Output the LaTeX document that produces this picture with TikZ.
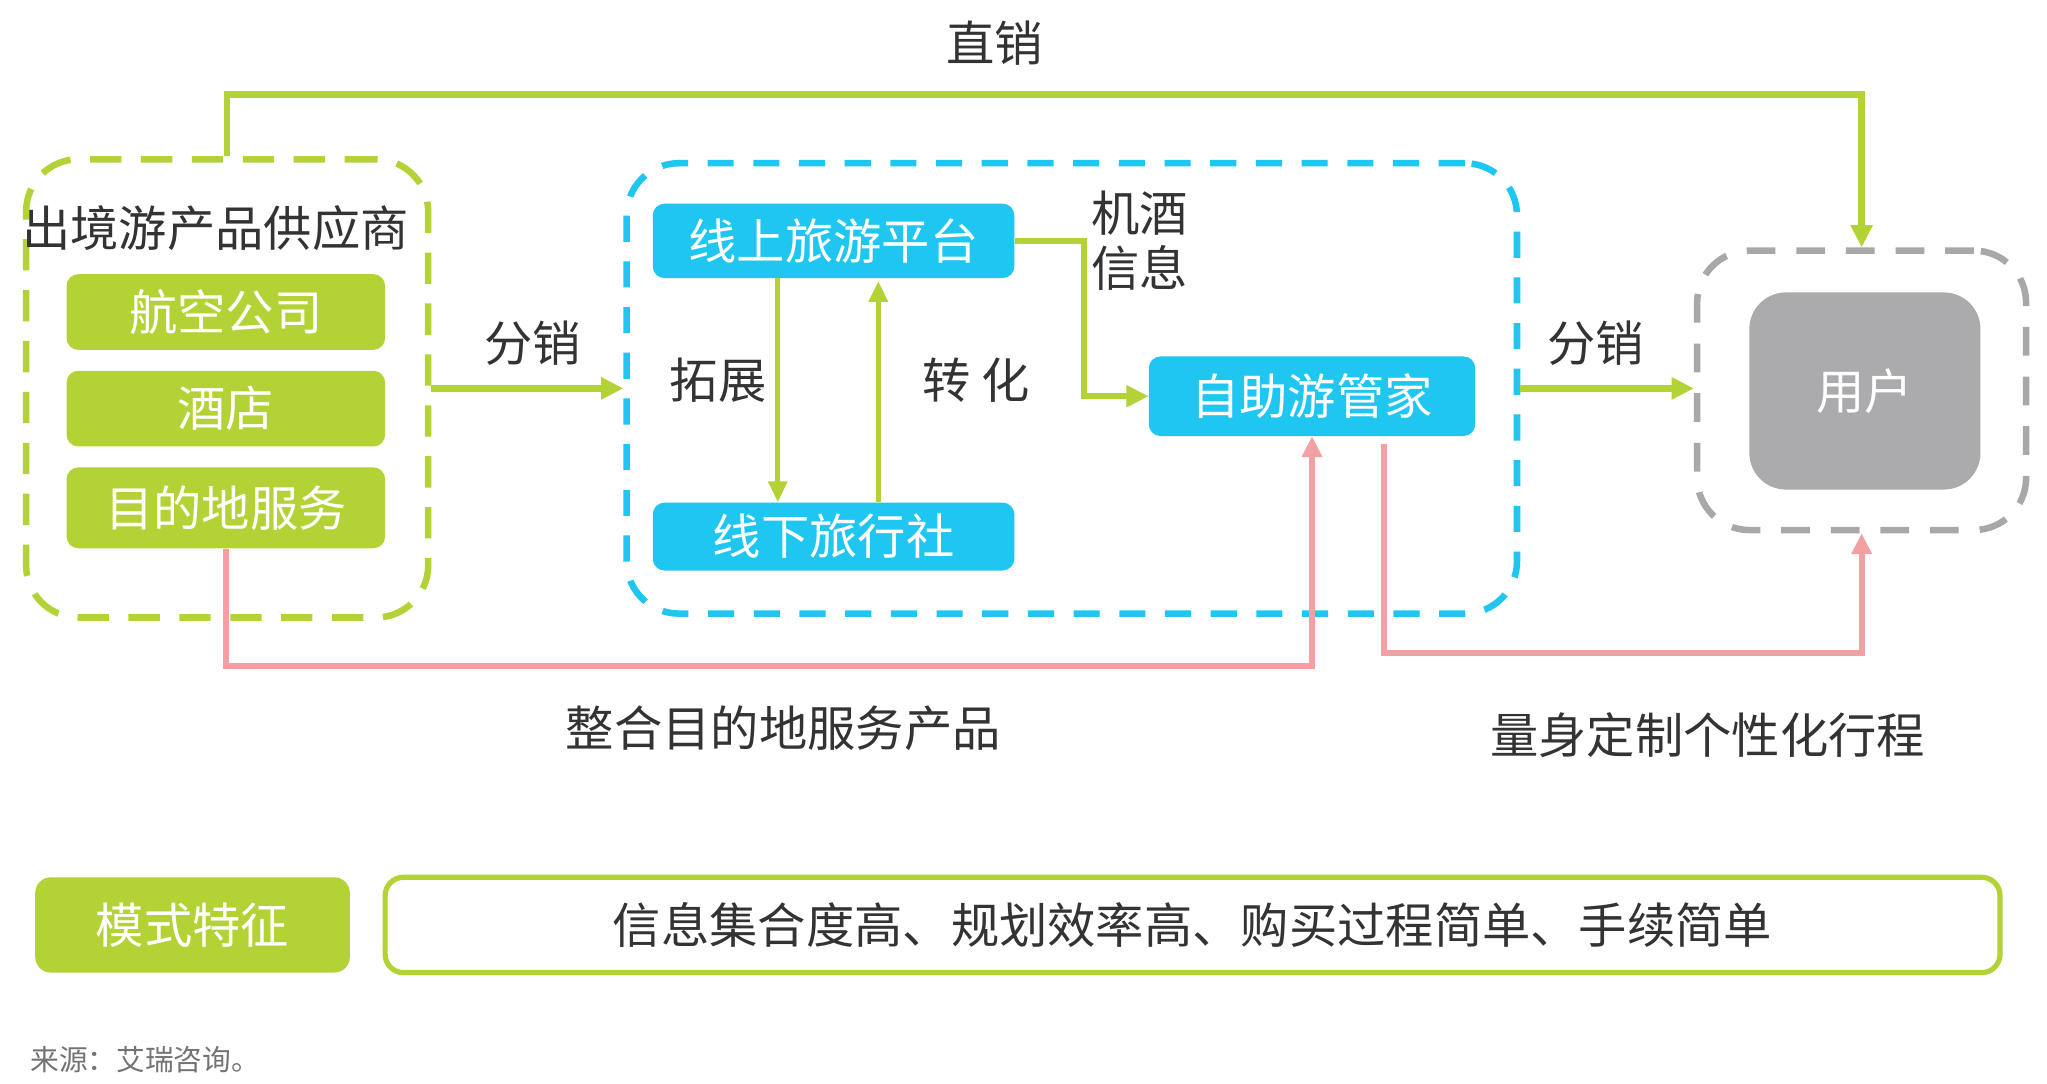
\documentclass[tikz,border=0pt]{standalone}
\usepackage{fontspec}
\setmainfont{Noto Sans CJK SC}
\usetikzlibrary{arrows.meta,calc}
\definecolor{lg}{HTML}{B3D236}
\definecolor{bl}{HTML}{1EC6F0}
\definecolor{pk}{HTML}{F2A0A3}
\definecolor{gy}{HTML}{ABABAE}
\definecolor{gyd}{HTML}{A8A8A8}
\definecolor{tx}{HTML}{333333}
\newcommand\fbig{\fontsize{37}{41}\selectfont}
\tikzset{
  txt/.style={font=\fbig, text=tx, inner sep=0pt},
  fillbox/.style={font=\fbig, text=white, inner sep=0pt, rounded corners=9pt},
  gbx/.style={fillbox, fill=lg, minimum width=244pt},
  bbx/.style={fillbox, fill=bl, minimum width=277pt},
  dbox/.style={line width=5pt, rounded corners=40pt, inner sep=0pt},
  garrow/.style={draw=lg, line width=5pt, -{Triangle[length=17pt,width=16pt]}},
  garrowthin/.style={draw=lg, line width=4pt, -{Triangle[length=16pt,width=14pt]}},
  parrow/.style={draw=pk, line width=4.5pt, -{Triangle[length=16pt,width=15pt]}},
}
\begin{document}
\begin{tikzpicture}[x=1pt,y=-1pt]
\useasboundingbox[fill=white] (0,0) rectangle (1568,830);

% left supplier group
\node[dbox, draw=lg, dash pattern=on 24pt off 15pt, minimum width=308pt, minimum height=351pt] (lbox) at (174,297.5) {};
\node[txt] (sup) at (165,175) {出境游产品供应商};
\node[gbx, minimum height=58pt] (air) at (173,239) {航空公司};
\node[gbx, minimum height=58pt] (hotel) at (173,313) {酒店};
\node[gbx, minimum height=62pt] (serv) at (173,389) {目的地服务};

% middle group
\node[dbox, draw=bl, dash pattern=on 20pt off 15pt, minimum width=682pt, minimum height=345pt] (bbox) at (821,297.5) {};
\node[bbx, minimum height=57pt] (on) at (638.5,184.5) {线上旅游平台};
\node[bbx, minimum height=52pt] (off) at (638.5,411) {线下旅行社};
\node[fillbox, fill=bl, minimum width=250pt, minimum height=61pt] (zz) at (1005,303.5) {自助游管家};

% user group
\node[dbox, draw=gyd, dash pattern=on 22pt off 16pt, minimum width=252pt, minimum height=214pt] (gbox) at (1426,299) {};
\node[fillbox, fill=gy, rounded corners=28pt, minimum width=177pt, minimum height=151pt] (user) at (1428.5,299.5) {用户};

% bottom feature row
\node[fillbox, fill=lg, rounded corners=12pt, minimum width=241pt, minimum height=73pt] (mode) at (147.5,708.5) {模式特征};
\node[txt, draw=lg, line width=4pt, fill=white, rounded corners=14pt, minimum width=1237pt, minimum height=73pt] (feat) at (913.5,708.5) {信息集合度高、规划效率高、购买过程简单、手续简单};

% connectors
\draw[garrow] (lbox.north) -- ++(0,-47) -| (gbox.north);
\draw[garrow] (lbox.east) -- (bbox.west);
\draw[garrow] (bbox.east) -- (bbox.east -| gbox.west);
\draw[garrowthin] ($(on.south west)+(96,0)$) -- ($(off.north west)+(96,0)$);
\draw[garrowthin] ($(off.north west)+(173,0)$) -- ($(on.south west)+(173,2)$);
\draw[garrow] (on.east) -- ++(53,0) |- (zz.west);
\draw[parrow] (serv.south) -- ++(0,90) -| (zz.south);
\coordinate (p2) at ($(zz.south)+(55,6)$);
\draw[parrow] (p2) -- ++(0,160) -| (gbox.south);

% labels
\node[txt] (l1) at (762,33) {直销};
\node[txt] (l2) at (408,263) {分销};
\node[txt] (l3) at (550,291) {拓展};
\node[txt] (l4) at (748,291) {转 化};
\node[txt] (l5) at (873,163) {机酒};
\node[txt] (l6) at (873,205) {信息};
\node[txt] (l7) at (1222,263) {分销};
\node[txt] (l8) at (600,558) {整合目的地服务产品};
\node[txt] (l9) at (1308,563) {量身定制个性化行程};
\node[inner sep=0pt, anchor=west, text=gray!90!black, font=\fontsize{22}{26}\selectfont] (src) at (23,812) {来源：艾瑞咨询。};
\end{tikzpicture}
\end{document}
